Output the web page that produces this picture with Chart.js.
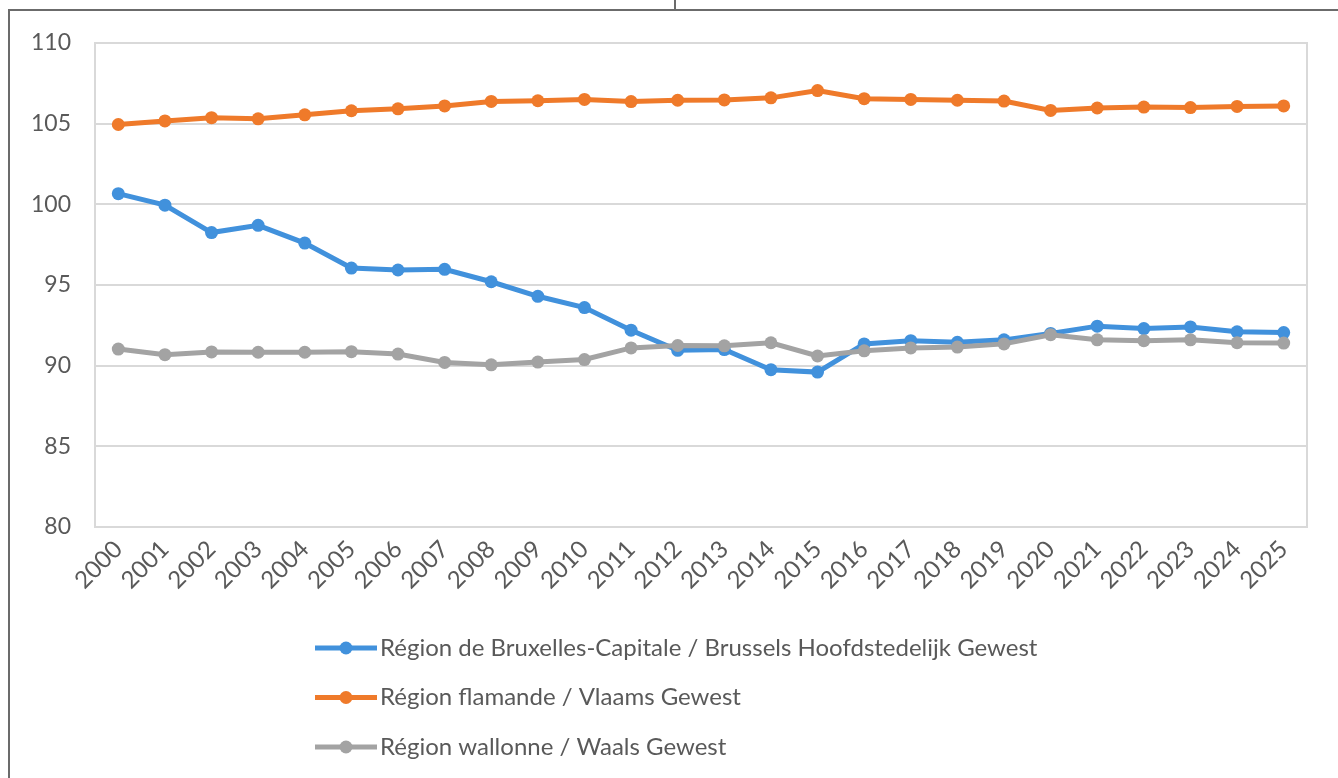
<!DOCTYPE html>
<html lang="fr">
<head>
<meta charset="utf-8">
<title>Régions</title>
<script src="https://cdn.jsdelivr.net/npm/chart.js@4.4.1/dist/chart.umd.min.js"></script>
<style>
  html, body { margin: 0; padding: 0; background: #fff; }
  #page { position: relative; width: 1338px; height: 778px; overflow: hidden; }
  #cadre { position: absolute; left: 8px; top: 9px; right: 0; bottom: 0;
           border-top: 2px solid #6b6b6b; border-left: 2px solid #6b6b6b; }
  #trait { position: absolute; left: 674px; top: 0; width: 2px; height: 10px; background: #6b6b6b; }
  #zone { position: absolute; left: 0; top: 0; width: 1338px; height: 778px; }
</style>
</head>
<body>
<div id="page">
  <div id="cadre"></div>
  <div id="trait"></div>
  <div id="zone"><canvas id="graphiqueRegions"></canvas></div>
</div>
<script>
var annees = ['2000', '2001', '2002', '2003', '2004', '2005', '2006', '2007', '2008', '2009',
  '2010', '2011', '2012', '2013', '2014', '2015', '2016', '2017', '2018', '2019',
  '2020', '2021', '2022', '2023', '2024', '2025'];

var bruxelles = [100.66, 99.95, 98.25, 98.7, 97.6, 96.05, 95.93, 95.97, 95.2, 94.3,
  93.6, 92.2, 90.95, 91.0, 89.75, 89.6, 91.35, 91.55, 91.45, 91.6,
  92.0, 92.45, 92.3, 92.4, 92.1, 92.05];

var flandre = [104.95, 105.17, 105.37, 105.3, 105.55, 105.8, 105.92, 106.1, 106.38, 106.42,
  106.5, 106.37, 106.45, 106.47, 106.6, 107.05, 106.55, 106.5, 106.45, 106.4,
  105.82, 105.97, 106.03, 106.0, 106.07, 106.1];

var wallonie = [91.03, 90.68, 90.85, 90.83, 90.83, 90.87, 90.72, 90.2, 90.05, 90.22,
  90.38, 91.1, 91.25, 91.23, 91.42, 90.6, 90.92, 91.1, 91.15, 91.35,
  91.92, 91.6, 91.55, 91.6, 91.42, 91.4];

var nomsSeries = [
  'Région de Bruxelles-Capitale / Brussels Hoofdstedelijk Gewest',
  'Région flamande / Vlaams Gewest',
  'Région wallonne / Waals Gewest'
];

var graduations = [80, 85, 90, 95, 100, 105, 110];

var couleurs = ['#4191DC', '#EF7A2A', '#A3A3A3'];
var police = 'Lato, "Liberation Sans", sans-serif';
var gris = '#595959';

function serie(indice, valeurs) {
  return {
    label: nomsSeries[indice],
    data: valeurs,
    borderColor: couleurs[indice],
    backgroundColor: couleurs[indice],
    borderWidth: 5,
    pointRadius: 6.5,
    pointHoverRadius: 6.5,
    pointBorderWidth: 0,
    tension: 0,
    order: 3 - indice
  };
}

// cadre gris clair autour de la zone de tracé
var cadreZone = {
  id: 'cadreZone',
  beforeDatasetsDraw: function (chart) {
    var a = chart.chartArea;
    var ctx = chart.ctx;
    ctx.save();
    ctx.strokeStyle = '#d9d9d9';
    ctx.lineWidth = 2;
    ctx.strokeRect(a.left, a.top, a.right - a.left, a.bottom - a.top);
    ctx.restore();
  }
};

// légende verticale sous le graphique
var legendeVerticale = {
  id: 'legendeVerticale',
  afterDraw: function (chart) {
    var ctx = chart.ctx;
    var x0 = 315, y0 = 648, pas = 49.5, longueur = 62;
    ctx.save();
    chart.data.datasets.forEach(function (ds, i) {
      var y = y0 + i * pas;
      ctx.strokeStyle = ds.borderColor;
      ctx.lineWidth = 5;
      ctx.beginPath();
      ctx.moveTo(x0, y);
      ctx.lineTo(x0 + longueur, y);
      ctx.stroke();
      ctx.fillStyle = ds.borderColor;
      ctx.beginPath();
      ctx.arc(x0 + longueur / 2, y, 6.5, 0, Math.PI * 2);
      ctx.fill();
      ctx.fillStyle = gris;
      ctx.font = '24px ' + police;
      ctx.textBaseline = 'middle';
      ctx.fillText(ds.label, x0 + longueur + 3, y);
    });
    ctx.restore();
  }
};

new Chart(document.getElementById('graphiqueRegions'), {
  type: 'line',
  data: {
    labels: annees,
    datasets: [serie(0, bruxelles), serie(1, flandre), serie(2, wallonie)]
  },
  plugins: [cadreZone, legendeVerticale],
  options: {
    responsive: true,
    maintainAspectRatio: false,
    animation: false,
    layout: { padding: { left: 0, right: 31, top: 43, bottom: 171 } },
    scales: {
      x: {
        offset: true,
        grid: { display: false },
        border: { display: false },
        ticks: {
          color: gris,
          font: { family: police, size: 24 },
          minRotation: 45,
          maxRotation: 45,
          autoSkip: false,
          padding: 0
        },
        afterFit: function (scale) { scale.height = 80; }
      },
      y: {
        min: 80,
        max: 110,
        afterBuildTicks: function (scale) {
          scale.ticks = graduations.map(function (v) { return { value: v }; });
        },
        grid: { color: '#d9d9d9', lineWidth: 2, drawTicks: false },
        border: { display: false },
        ticks: {
          color: gris,
          font: { family: police, size: 23 },
          padding: 24
        },
        afterFit: function (scale) { scale.width = 95; }
      }
    },
    plugins: {
      legend: { display: false },
      tooltip: { enabled: false }
    }
  }
});
</script>
</body>
</html>
